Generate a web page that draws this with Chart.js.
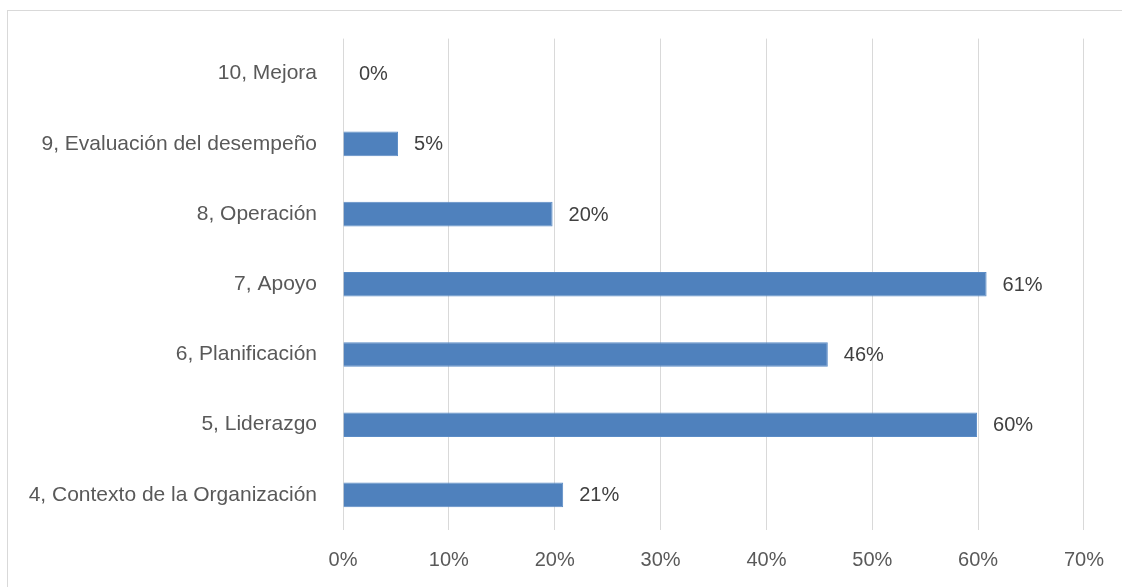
<!DOCTYPE html>
<html>
<head>
<meta charset="utf-8">
<script src="https://cdn.jsdelivr.net/npm/chart.js@4/dist/chart.umd.min.js"></script>
<style>
  html, body { margin: 0; padding: 0; background: #fff; overflow: hidden; }
  #wrap { position: relative; width: 1122px; height: 587px; }
  #frame { position: absolute; left: 7px; top: 10px; width: 1200px; height: 700px;
           border-left: 1px solid #d9d9d9; border-top: 1px solid #d9d9d9; }
  canvas { position: absolute; left: 0; top: 0; }
</style>
</head>
<body>
<div id="wrap">
  <div id="frame"></div>
  <canvas id="barChart" width="1122" height="587"></canvas>
</div>
<script>
const categories = [
    "10, Mejora",
    "9, Evaluación del desempeño",
    "8, Operación",
    "7, Apoyo",
    "6, Planificación",
    "5, Liderazgo",
    "4, Contexto de la Organización"
];
const values = [0, 5.2, 19.8, 60.8, 45.8, 59.9, 20.8];
const tickValues = [0, 10, 20, 30, 40, 50, 60, 70];

const FONT = "'Liberation Sans', Arial, sans-serif";

// draws the % label to the right of each bar
const valueLabels = {
    id: "valueLabels",
    afterDatasetsDraw(chart) {
        const ctx = chart.ctx;
        const meta = chart.getDatasetMeta(0);
        ctx.save();
        ctx.font = "20px " + FONT;
        ctx.fillStyle = "#404040";
        ctx.textAlign = "left";
        ctx.textBaseline = "middle";
        meta.data.forEach((bar, i) => {
            ctx.fillText(Math.round(values[i]) + "%", bar.x + 16, bar.y + 1);
        });
        ctx.restore();
    }
};

new Chart(document.getElementById("barChart"), {
    type: "bar",
    data: {
        labels: categories,
        datasets: [{
            data: values,
            backgroundColor: "#4f81bd",
            borderColor: "#5b8cc6",
            borderWidth: 1,
            barPercentage: 0.7,
            categoryPercentage: 0.5
        }]
    },
    options: {
        indexAxis: "y",
        responsive: false,
        animation: false,
        layout: { padding: { top: 38, right: 35, left: 0, bottom: 0 } },
        plugins: { legend: { display: false }, tooltip: { enabled: false } },
        scales: {
            x: {
                min: 0,
                max: 70,
                afterBuildTicks(scale) {
                    scale.ticks = tickValues.map(v => ({ value: v }));
                },
                afterFit(scale) { scale.height = 57; },
                grid: { color: "#d9d9d9", drawTicks: false },
                border: { display: false },
                ticks: {
                    padding: 18,
                    color: "#595959",
                    font: { family: FONT, size: 20 },
                    callback: v => v + "%"
                }
            },
            y: {
                afterFit(scale) { scale.width = 343; },
                grid: { display: false, drawTicks: false },
                border: { display: false },
                ticks: {
                    padding: 26,
                    color: "#595959",
                    font: { family: FONT, size: 21 }
                }
            }
        }
    },
    plugins: [valueLabels]
});
</script>
</body>
</html>
